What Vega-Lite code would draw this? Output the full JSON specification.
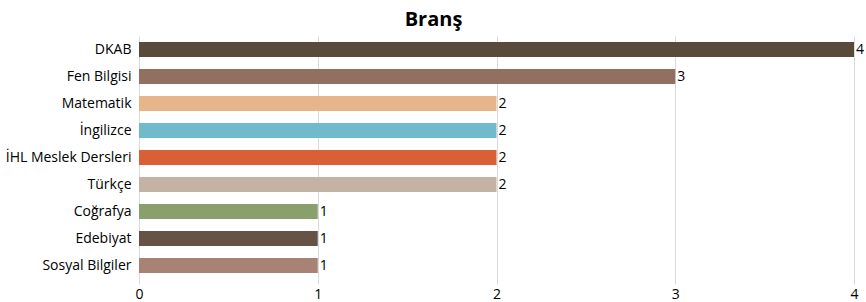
{
  "$schema": "https://vega.github.io/schema/vega-lite/v6.json",
  "width": 715,
  "height": 243,
  "autosize": "none",
  "padding": {"left": 139, "top": 36, "right": 12, "bottom": 23},
  "background": "white",
  "title": {"text": "Branş", "font": "Open Sans", "fontSize": 20, "fontWeight": "bold", "color": "#000000", "anchor": "middle", "dx": -63, "offset": 6},
  "data": {"values": [
    {"brans": "DKAB", "n": 4},
    {"brans": "Fen Bilgisi", "n": 3},
    {"brans": "Matematik", "n": 2},
    {"brans": "İngilizce", "n": 2},
    {"brans": "İHL Meslek Dersleri", "n": 2},
    {"brans": "Türkçe", "n": 2},
    {"brans": "Coğrafya", "n": 1},
    {"brans": "Edebiyat", "n": 1},
    {"brans": "Sosyal Bilgiler", "n": 1}
  ]},
  "encoding": {
    "y": {"field": "brans", "type": "nominal", "sort": null,
      "scale": {"paddingInner": 0.44, "paddingOuter": 0.22},
      "axis": {"title": null, "domain": false, "ticks": false, "labelFont": "Open Sans", "labelFontSize": 14, "labelColor": "#000000", "labelPadding": 8}},
    "x": {"field": "n", "type": "quantitative",
      "scale": {"domain": [0, 4], "nice": false},
      "axis": {"title": null, "domain": false, "values": [0,1,2,3,4], "labelOverlap": false, "labelFlush": false, "grid": true, "gridColor": "#d9d9d9", "ticks": true, "tickColor": "#d9d9d9", "tickSize": 5, "labelFont": "Open Sans", "labelFontSize": 14, "labelColor": "#000000", "labelPadding": 3}}
  },
  "layer": [
    {"mark": {"type": "bar"},
     "encoding": {"color": {"field": "brans", "type": "nominal", "legend": null,
       "scale": {"domain": ["DKAB","Fen Bilgisi","Matematik","İngilizce","İHL Meslek Dersleri","Türkçe","Coğrafya","Edebiyat","Sosyal Bilgiler"],
                 "range": ["#594a3b","#926f60","#e6b68a","#6fbacd","#d95f36","#c4b3a4","#8aa06c","#665346","#a88373"]}}}},
    {"mark": {"type": "text", "align": "left", "dx": 2, "font": "Open Sans", "fontSize": 14, "color": "#000000"},
     "encoding": {"text": {"field": "n", "type": "quantitative"}}}
  ],
  "config": {"view": {"stroke": null}}
}
